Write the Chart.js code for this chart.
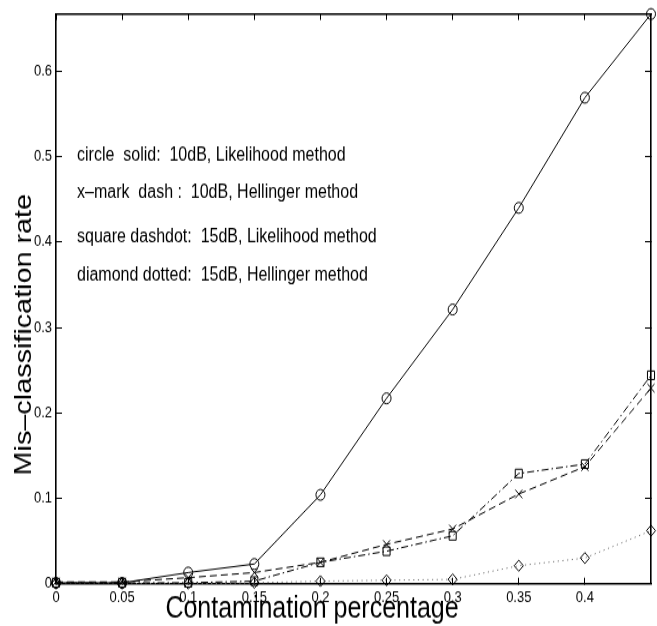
<!DOCTYPE html>
<html><head><meta charset="utf-8">
<script src="https://cdn.jsdelivr.net/npm/chart.js@4.4.1/dist/chart.umd.min.js"></script>
<style>html,body{margin:0;padding:0;background:#fff;overflow:hidden}
#c{display:block;width:657px;height:626px}</style>
</head><body>
<canvas id="c" width="657" height="522" style="width:657px;height:626px"></canvas>
<script>
const contamination = [0, 0.05, 0.1, 0.15, 0.2, 0.25, 0.3, 0.35, 0.4, 0.45];
const likelihood10dB = [0.001, 0.001, 0.013, 0.023, 0.104, 0.217, 0.321, 0.440, 0.569, 0.667];
const hellinger10dB  = [0.002, 0.002, 0.007, 0.013, 0.025, 0.046, 0.064, 0.105, 0.137, 0.229];
const likelihood15dB = [0.001, 0.001, 0.001, 0.003, 0.025, 0.038, 0.056, 0.129, 0.140, 0.244];
const hellinger15dB  = [0.000, 0.000, 0.000, 0.001, 0.003, 0.004, 0.005, 0.021, 0.030, 0.062];
const xTicks = [0, 0.05, 0.1, 0.15, 0.2, 0.25, 0.3, 0.35, 0.4];
const yTicks = [0, 0.1, 0.2, 0.3, 0.4, 0.5, 0.6];
const legendLines = [
  "circle  solid:  10dB, Likelihood method",
  "x\u2013mark  dash :  10dB, Hellinger method",
  "square dashdot:  15dB, Likelihood method",
  "diamond dotted:  15dB, Hellinger method"
];
const xTitle = "Contamination percentage";
const yTitle = "Mis\u2013classification rate";

const FONT = "'Liberation Sans',Arial,Helvetica,sans-serif";

function pts(arr) { return contamination.map((x, i) => ({ x: x, y: arr[i] })); }

const textPlugin = {
  id: 'textNotes',
  afterDraw(chart) {
    const ctx = chart.ctx;
    ctx.save();
    ctx.fillStyle = '#000';
    ctx.font = "16px " + FONT;
    ctx.textBaseline = 'middle';
    ctx.textAlign = 'left';
    const ys = [129.5, 161, 198, 230];
    legendLines.forEach((t, i) => ctx.fillText(t, 77, ys[i]));
    ctx.font = "25px " + FONT;
    ctx.textBaseline = 'alphabetic';
    ctx.textAlign = 'center';
    ctx.fillText(xTitle, 312, 515);
    ctx.font = "24px " + FONT;
    ctx.translate(31, 279);
    ctx.rotate(-Math.PI / 2);
    ctx.fillText(yTitle, 0, 0);
    ctx.restore();
  }
};

function noPad(s) { s.paddingTop = 0; s.paddingBottom = 0; s.paddingLeft = 0; s.paddingRight = 0; }

const gridX = { drawOnChartArea: false, drawTicks: true, tickLength: -5, color: '#000', lineWidth: 1 };
const gridY = { drawOnChartArea: false, drawTicks: true, tickLength: -6, color: '#000', lineWidth: 1 };
const borderOpts = { display: true, color: '#000', width: 1.6 };

Chart.defaults.font.family = FONT;
Chart.defaults.color = '#000';

new Chart(document.getElementById('c'), {
  type: 'line',
  data: {
    datasets: [
      { label: 'circle solid: 10dB, Likelihood method', data: pts(likelihood10dB), borderColor: '#000', borderWidth: 1,
        pointStyle: 'circle', pointRadius: 4.5, pointBorderWidth: 1, pointBorderColor: '#000', pointBackgroundColor: 'rgba(0,0,0,0)' },
      { label: 'x-mark dash: 10dB, Hellinger method', data: pts(hellinger10dB), borderColor: '#000', borderWidth: 1, borderDash: [7, 4],
        pointStyle: 'crossRot', pointRadius: 5, pointBorderWidth: 1, pointBorderColor: '#000', pointBackgroundColor: 'rgba(0,0,0,0)' },
      { label: 'square dashdot: 15dB, Likelihood method', data: pts(likelihood15dB), borderColor: '#000', borderWidth: 1, borderDash: [7, 3, 1.5, 3],
        pointStyle: 'rect', pointRadius: 5, pointBorderWidth: 1, pointBorderColor: '#000', pointBackgroundColor: 'rgba(0,0,0,0)' },
      { label: 'diamond dotted: 15dB, Hellinger method', data: pts(hellinger15dB), borderColor: '#777', borderWidth: 1, borderDash: [1.2, 3.5],
        pointStyle: 'rectRot', pointRadius: 4.6, pointBorderWidth: 1, pointBorderColor: '#000', pointBackgroundColor: 'rgba(0,0,0,0)' }
    ]
  },
  options: {
    responsive: false,
    animation: false,
    devicePixelRatio: 1,
    layout: { padding: { left: 0, top: 0, bottom: 0, right: -1 } },
    elements: { line: { tension: 0, fill: false } },
    datasets: { line: { clip: 10 } },
    plugins: { legend: { display: false }, tooltip: { enabled: false } },
    scales: {
      x: {
        type: 'linear', position: 'bottom', min: 0, max: 0.45,
        afterFit(s) { s.height = 35.33; noPad(s); },
        afterBuildTicks(s) { s.ticks = xTicks.map(v => ({ value: v })); },
        grid: gridX, border: borderOpts,
        ticks: { autoSkip: false, maxRotation: 0, padding: 8.5, font: { size: 13 },
          callback: v => String(Number(v.toFixed(2))) }
      },
      x2: {
        type: 'linear', position: 'top', min: 0, max: 0.45,
        afterFit(s) { s.height = 11.67; noPad(s); },
        afterBuildTicks(s) { s.ticks = xTicks.map(v => ({ value: v })); },
        grid: gridX, border: borderOpts,
        ticks: { display: false }
      },
      y: {
        type: 'linear', position: 'left', min: 0, max: 0.667,
        afterFit(s) { s.width = 56; noPad(s); },
        afterBuildTicks(s) { s.ticks = yTicks.map(v => ({ value: v })); },
        grid: gridY, border: borderOpts,
        ticks: { padding: 10, font: { size: 13 }, callback: v => String(Number(v.toFixed(2))) }
      },
      y2: {
        type: 'linear', position: 'right', min: 0, max: 0.667,
        afterFit(s) { s.width = 0; noPad(s); },
        afterBuildTicks(s) { s.ticks = yTicks.map(v => ({ value: v })); },
        grid: gridY, border: borderOpts,
        ticks: { display: false }
      }
    }
  },
  plugins: [textPlugin]
});
</script>
</body></html>
